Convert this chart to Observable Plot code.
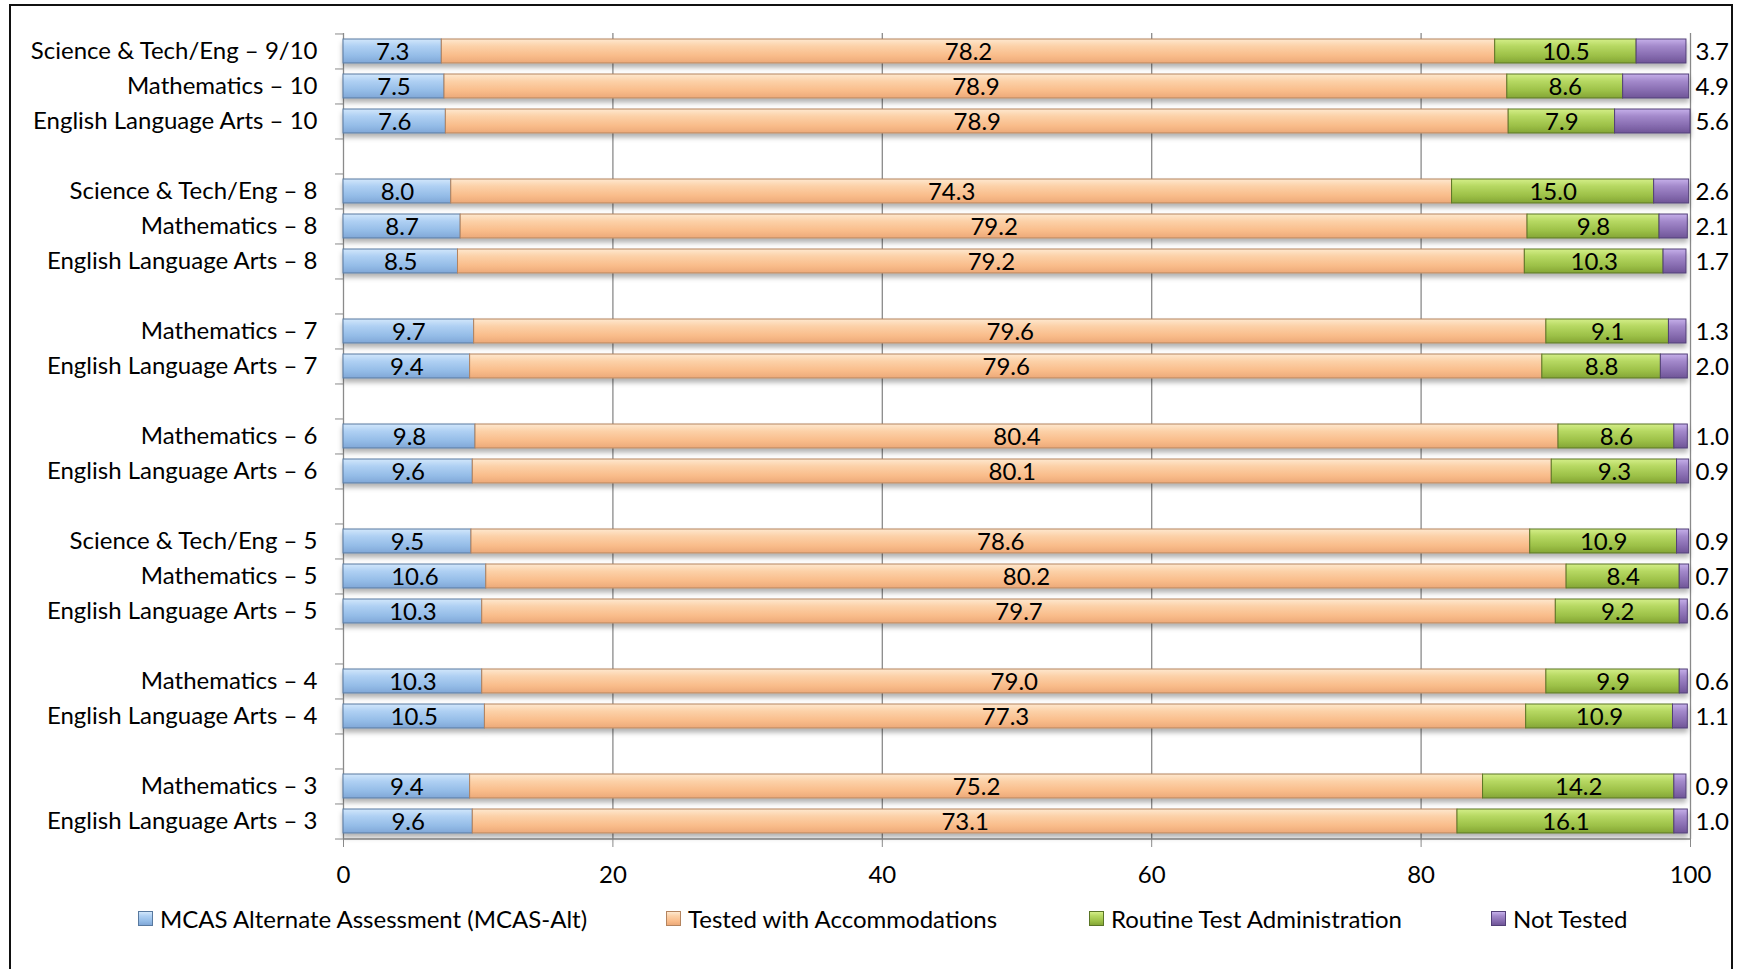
<!DOCTYPE html>
<html>
<head>
<meta charset="utf-8">
<script src="https://cdn.jsdelivr.net/npm/d3@7"></script>
<script src="https://cdn.jsdelivr.net/npm/@observablehq/plot@0.6"></script>
<style>
  html, body { margin: 0; padding: 0; background: #fff; }
  body { width: 1741px; height: 969px; overflow: hidden; position: relative; font-family: Lato, "Noto Sans", sans-serif; }
  #frame { position: absolute; left: 9px; top: 4px; width: 1724px; height: 990px; border: 2px solid #111; box-sizing: border-box; }
  #chart { position: absolute; left: 0; top: 0; }
  #legend { position: absolute; left: 0; top: 0; width: 1741px; height: 969px; pointer-events: none; }
  .item { position: absolute; top: 904px; display: flex; align-items: center; font-size: 24px; color: #000; white-space: nowrap; }
  .sw { width: 15px; height: 15px; margin-right: 7px; box-sizing: border-box; border: 1px solid; }
</style>
</head>
<body>
<div id="frame"></div>
<div id="chart"></div>
<div id="legend"></div>
<script>
// ---- data ----
const categories = [
  "Science & Tech/Eng – 9/10", "Mathematics – 10", "English Language Arts – 10", null,
  "Science & Tech/Eng – 8", "Mathematics – 8", "English Language Arts – 8", null,
  "Mathematics – 7", "English Language Arts – 7", null,
  "Mathematics – 6", "English Language Arts – 6", null,
  "Science & Tech/Eng – 5", "Mathematics – 5", "English Language Arts – 5", null,
  "Mathematics – 4", "English Language Arts – 4", null,
  "Mathematics – 3", "English Language Arts – 3"
];
const series = ["MCAS Alternate Assessment (MCAS-Alt)", "Tested with Accommodations", "Routine Test Administration", "Not Tested"];
const mcasAlt      = [7.3, 7.5, 7.6, null, 8.0, 8.7, 8.5, null, 9.7, 9.4, null, 9.8, 9.6, null, 9.5, 10.6, 10.3, null, 10.3, 10.5, null, 9.4, 9.6];
const accommodated = [78.2, 78.9, 78.9, null, 74.3, 79.2, 79.2, null, 79.6, 79.6, null, 80.4, 80.1, null, 78.6, 80.2, 79.7, null, 79.0, 77.3, null, 75.2, 73.1];
const routine      = [10.5, 8.6, 7.9, null, 15.0, 9.8, 10.3, null, 9.1, 8.8, null, 8.6, 9.3, null, 10.9, 8.4, 9.2, null, 9.9, 10.9, null, 14.2, 16.1];
const notTested    = [3.7, 4.9, 5.6, null, 2.6, 2.1, 1.7, null, 1.3, 2.0, null, 1.0, 0.9, null, 0.9, 0.7, 0.6, null, 0.6, 1.1, null, 0.9, 1.0];
const xTicks = [0, 20, 40, 60, 80, 100];

// ---- styles ----
const gradStops = [
  ["#d2e7fb", "#afd0f3", "#94bce7", "#80a7d7"],
  ["#fee8cf", "#fcd1a8", "#f9bc8a", "#eca979"],
  ["#d4ee88", "#b6d862", "#9cc047", "#84a536"],
  ["#c6b0ea", "#a389cb", "#866baf", "#6f5597"]
];
const strokes = ["#58799f", "#b4845f", "#5a7526", "#534078"];
const grid = "#8a8a8a";
const font = "Lato, 'Noto Sans', sans-serif";

// ---- table ----
const keys = categories.map((c, i) => c ?? `gap${i}`);
const cols = [mcasAlt, accommodated, routine, notTested];
const rows = [];
categories.forEach((c, i) => {
  if (c === null) return;
  cols.forEach((col, s) => rows.push({key: keys[i], s, value: col[i]}));
});

const width = 1741, height = 895;
const marginTop = 33, marginBottom = 56, marginLeft = 343, marginRight = 51;
const step = (height - marginTop - marginBottom) / keys.length;

const defs = () => {
  const d = d3.create("svg:defs");
  gradStops.forEach((st, s) => {
    const g = d.append("linearGradient").attr("id", `g${s}`).attr("x1", 0).attr("y1", 0).attr("x2", 0).attr("y2", 1);
    [0, 0.3, 0.7, 1].forEach((o, k) => g.append("stop").attr("offset", o).attr("stop-color", st[k]));
  });
  const f = d.append("filter").attr("id", "shadow").attr("x", "-5%").attr("y", "-30%").attr("width", "110%").attr("height", "190%");
  f.append("feDropShadow").attr("dx", 0).attr("dy", 4).attr("stdDeviation", 2.5).attr("flood-color", "#000").attr("flood-opacity", 0.3);
  return d.node();
};

const plot = Plot.plot({
  width, height, marginTop, marginBottom, marginLeft, marginRight,
  style: {fontFamily: font, fontSize: "24px", color: "#000", background: "transparent"},
  x: {domain: [0, 100]},
  y: {domain: keys, paddingInner: 0.31, paddingOuter: 0.155},
  color: {type: "identity"},
  marks: [
    defs,
    Plot.ruleX(xTicks, {stroke: grid, strokeWidth: 1.3}),
    Plot.ruleY([keys[keys.length - 1]], {x1: 0, x2: 100, dy: step / 2, stroke: grid, strokeWidth: 1.3}),
    Plot.axisX({ticks: xTicks, tickSize: 8, tickPadding: 18, stroke: grid, fill: "#000", fontSize: 24, fontFamily: font, label: null}),
    Plot.axisY({tickSize: 8, tickFormat: () => "", dy: -step / 2, stroke: grid, label: null}),
    Plot.axisY({ticks: [keys[keys.length - 1]], tickSize: 8, tickFormat: () => "", dy: step / 2, stroke: grid, label: null}),
    Plot.axisY({tickSize: 0, tickPadding: 26, tickFormat: (k) => k.startsWith("gap") ? "" : k, fill: "#000", fontSize: 24, fontFamily: font, label: null}),
    Plot.barX(rows, Plot.stackX({x: "value", y: "key", z: "s", fill: (d) => `url(#g${d.s})`, stroke: (d) => strokes[d.s], strokeWidth: 1})),
    Plot.text(rows, Plot.stackX({x: "value", y: "key", z: "s", text: (d) => d.s === 3 ? null : d.value.toFixed(1), fill: "#000", fontSize: 24, fontFamily: font, dy: 1})),
    Plot.text(rows.filter((d) => d.s === 3), {x: 100, y: "key", text: (d) => d.value.toFixed(1), textAnchor: "start", dx: 5, dy: 1, fill: "#000", fontSize: 24, fontFamily: font})
  ]
});
const bars = plot.querySelector('g[aria-label="bar"]');
if (bars) bars.setAttribute("filter", "url(#shadow)");
document.getElementById("chart").appendChild(plot);

// ---- legend ----
const legendX = [138, 666, 1089, 1491];
const legend = document.getElementById("legend");
series.forEach((name, s) => {
  const it = document.createElement("div");
  it.className = "item";
  it.style.left = legendX[s] + "px";
  const sw = document.createElement("div");
  sw.className = "sw";
  sw.style.background = `linear-gradient(${gradStops[s][0]}, ${gradStops[s][1]} 30%, ${gradStops[s][2]} 70%, ${gradStops[s][3]})`;
  sw.style.borderColor = strokes[s];
  const tx = document.createElement("span");
  tx.textContent = name;
  it.appendChild(sw); it.appendChild(tx);
  legend.appendChild(it);
});
</script>
</body>
</html>
